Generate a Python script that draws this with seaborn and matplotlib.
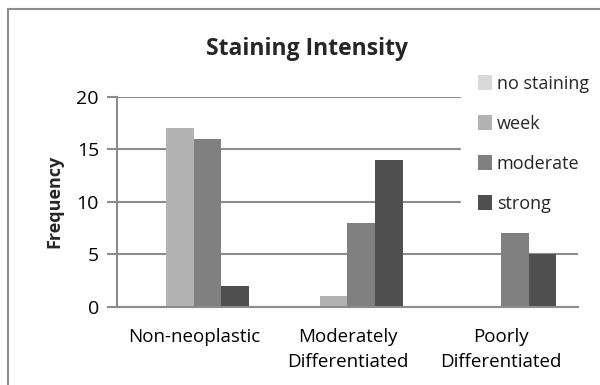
import matplotlib
matplotlib.use("Agg")
import matplotlib.pyplot as plt
import seaborn as sns
import pandas as pd
from matplotlib.patches import Patch
from matplotlib.lines import Line2D

categories = ["Non-neoplastic", "Moderately\nDifferentiated", "Poorly\nDifferentiated"]
series = ["no staining", "week", "moderate", "strong"]
no_staining = [0, 0, 0]
week = [17, 1, 0]
moderate = [16, 8, 7]
strong = [2, 14, 5]
colors = ["#d9d9d9", "#b2b2b2", "#808080", "#4f4f4f"]
yticks = [0, 5, 10, 15, 20]

rows = []
for s, vals in zip(series, [no_staining, week, moderate, strong]):
    for c, v in zip(categories, vals):
        rows.append({"Category": c, "Intensity": s, "Frequency": v})
df = pd.DataFrame(rows)

sns.set_theme(style="white")
plt.rcParams["font.family"] = ["Open Sans", "DejaVu Sans"]

fig = plt.figure(figsize=(6, 3.85), dpi=100)
ax = fig.add_axes([117/600, 1-307/385, (578-117)/600, (307-96.7)/385])

sns.barplot(data=df, x="Category", y="Frequency", hue="Intensity",
            order=categories, hue_order=series, palette=colors,
            width=0.72, linewidth=0, saturation=1, ax=ax, legend=False, errorbar=None)

ax.set_ylim(0, 20)
ax.set_yticks(yticks)
ax.set_yticklabels([str(t) for t in yticks], fontsize=14)
ax.yaxis.grid(True, color="#8c8c8c", linewidth=1.5)
ax.set_axisbelow(True)
for sp in ["top", "right"]:
    ax.spines[sp].set_visible(False)
for sp in ["left", "bottom"]:
    ax.spines[sp].set_color("#8c8c8c")
    ax.spines[sp].set_linewidth(1.5)
ax.tick_params(axis="y", which="both", left=True, length=7, width=1.5,
               color="#8c8c8c", pad=6, labelcolor="black")
ax.tick_params(axis="x", bottom=False, pad=9, labelsize=13.5, labelcolor="black")
for lbl in ax.get_xticklabels():
    lbl.set_linespacing(1.5)
    lbl.set_ha("center")
ax.set_xlabel("")
ax.set_ylabel("Frequency", fontsize=13, fontweight="bold")
ax.yaxis.set_label_coords((63-117)/461, 0.5)
ax.set_xlim(-0.5, 2.5)

fig.text(307/600, 1-49/385, "Staining Intensity", ha="center", va="center",
         fontsize=16.5, fontweight="bold")

handles = [Patch(facecolor=c, edgecolor="none") for c in colors]
leg = fig.legend(handles, series, loc="upper left",
                 bbox_to_anchor=(461/600, 1-58/385), frameon=True,
                 facecolor="white", edgecolor="white", framealpha=1,
                 fontsize=13, handlelength=0.75, handleheight=0.9,
                 handletextpad=0.3, labelspacing=1.22, borderpad=0.94,
                 borderaxespad=0)
leg.get_frame().set_boxstyle("square", pad=0)

fig.add_artist(Line2D([8/600, 8/600], [0, 1-9/385], color="#8c8c8c", lw=1.5))
fig.add_artist(Line2D([8/600, 1], [1-9/385, 1-9/385], color="#8c8c8c", lw=1.5))

fig.savefig("out.png", dpi=100)
